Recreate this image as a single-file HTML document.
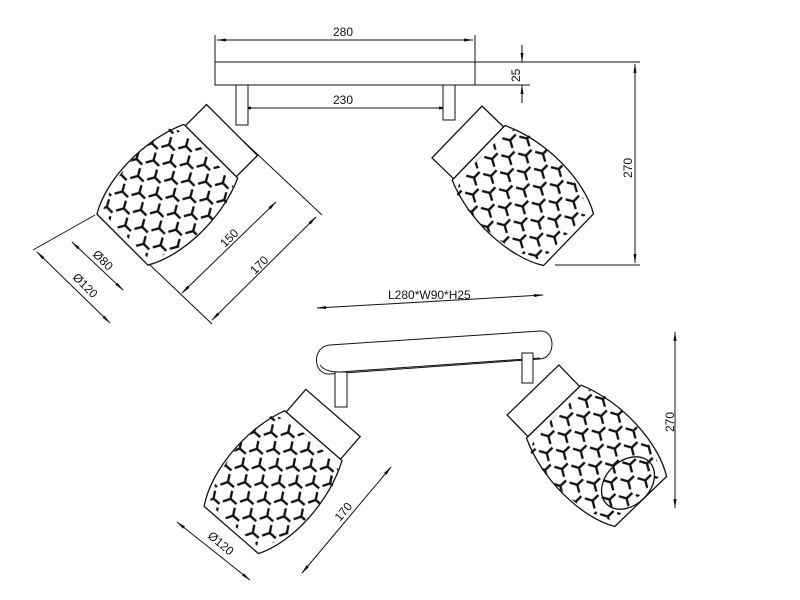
<!DOCTYPE html>
<html><head><style>body{margin:0;background:#fff}svg{display:block}text{font-family:"Liberation Sans",sans-serif;font-size:12px;fill:#111}</style></head>
<body>
<svg width="800" height="600" viewBox="0 0 800 600" xmlns="http://www.w3.org/2000/svg">
<defs>
<marker id="ar" markerWidth="10" markerHeight="6" refX="9" refY="3" orient="auto-start-reverse"><path d="M0,1.5 L10,3 L0,4.5Z" fill="#111"/></marker>
<pattern id="hx" width="22" height="26" patternUnits="userSpaceOnUse">
<g stroke="#111" stroke-width="2.4" fill="none">
<path d="M11,8 L11,0 M11,8 L4,12 M11,8 L18,12"/>
<path d="M0,21 L0,13 M0,21 L-7,25 M0,21 L7,25"/>
<path d="M22,21 L22,13 M22,21 L15,25 M22,21 L29,25"/>
</g>
</pattern>
<g id="lamp">
<path d="M0,-36 L30,-36 L30,36 L0,36 Z" fill="#fff" stroke="#111" stroke-width="1.3"/>
<path d="M30,-38 C70,-56 125,-54 155,-36 L155,36 C125,54 70,56 30,38 Z" fill="#fff" stroke="#111" stroke-width="1.3"/>
<path d="M40,-44 C72,-54 122,-52 150,-33 L150,33 C122,52 72,54 40,44 C32,20 32,-20 40,-44Z" fill="url(#hx)"/>
</g>
</defs>
<g stroke="#111" stroke-width="1" fill="none">
<rect x="215" y="62" width="260" height="23" fill="#fff"/>
<line x1="215" y1="35" x2="215" y2="62"/><line x1="475" y1="35" x2="475" y2="62"/>
<line x1="217" y1="40" x2="473" y2="40" marker-start="url(#ar)" marker-end="url(#ar)"/>
<line x1="475" y1="62" x2="640" y2="62"/><line x1="475" y1="85" x2="530" y2="85"/>
<line x1="522" y1="45" x2="522" y2="62" marker-end="url(#ar)"/>
<line x1="522" y1="103" x2="522" y2="85" marker-end="url(#ar)"/>
<line x1="242" y1="108" x2="448" y2="108" marker-start="url(#ar)" marker-end="url(#ar)"/>
<line x1="555" y1="265" x2="640" y2="265"/>
<line x1="635" y1="64" x2="635" y2="263" marker-start="url(#ar)" marker-end="url(#ar)"/>
<rect x="236" y="85" width="12" height="40" fill="#fff"/>
<rect x="443" y="85" width="12" height="35" fill="#fff"/>
<line x1="37" y1="252" x2="110" y2="323" marker-start="url(#ar)" marker-end="url(#ar)"/>
<line x1="72" y1="242" x2="123" y2="290" marker-start="url(#ar)" marker-end="url(#ar)"/>
<line x1="182" y1="293" x2="276" y2="202" marker-start="url(#ar)" marker-end="url(#ar)"/>
<line x1="212" y1="320" x2="316" y2="217" marker-start="url(#ar)" marker-end="url(#ar)"/>
<line x1="205" y1="105" x2="322" y2="215"/>
<line x1="150" y1="265" x2="212" y2="324"/>
<line x1="95" y1="215" x2="33" y2="250"/>
<line x1="317" y1="308" x2="543" y2="295" marker-start="url(#ar)" marker-end="url(#ar)"/>
<path d="M330,345 L540,331 C556,330 556,358 540,359 L330,374 C312,375 312,346 330,345 Z" fill="#fff"/>
<path d="M320,365 C325,372 335,372 340,372 L540,358"/>
<rect x="335" y="372" width="12" height="35" fill="#fff"/>
<rect x="522" y="353" width="11" height="30" fill="#fff"/>
<line x1="675" y1="332" x2="675" y2="508" marker-start="url(#ar)" marker-end="url(#ar)"/>
<line x1="177" y1="522" x2="250" y2="580" marker-start="url(#ar)" marker-end="url(#ar)"/>
<line x1="302" y1="573" x2="391" y2="467" marker-start="url(#ar)" marker-end="url(#ar)"/>
</g>
<use href="#lamp" transform="translate(232,130) rotate(135)"/>
<use href="#lamp" transform="translate(457,132) rotate(44)"/>
<use href="#lamp" transform="translate(333,413) rotate(131)"/>
<use href="#lamp" transform="translate(533,390) rotate(46)"/>
<ellipse cx="628" cy="483" rx="22" ry="30" transform="rotate(46 628 483)" fill="none" stroke="#111" stroke-width="1.3"/>
<text x="333" y="36">280</text>
<text x="333" y="104">230</text>
<text x="0" y="0" transform="translate(520,82) rotate(-90)">25</text>
<text x="0" y="0" transform="translate(632,178) rotate(-90)">270</text>
<text x="0" y="0" transform="translate(674,432) rotate(-90)">270</text>
<text x="388" y="299">L280*W90*H25</text>
<text x="0" y="0" transform="translate(225,248) rotate(-45)">150</text>
<text x="0" y="0" transform="translate(255,275) rotate(-45)">170</text>
<text x="0" y="0" transform="translate(92,255) rotate(45)">Ø80</text>
<text x="0" y="0" transform="translate(72,278) rotate(45)">Ø120</text>
<text x="0" y="0" transform="translate(340,522) rotate(-50)">170</text>
<text x="0" y="0" transform="translate(207,537) rotate(40)">Ø120</text>
</svg>
</body></html>
